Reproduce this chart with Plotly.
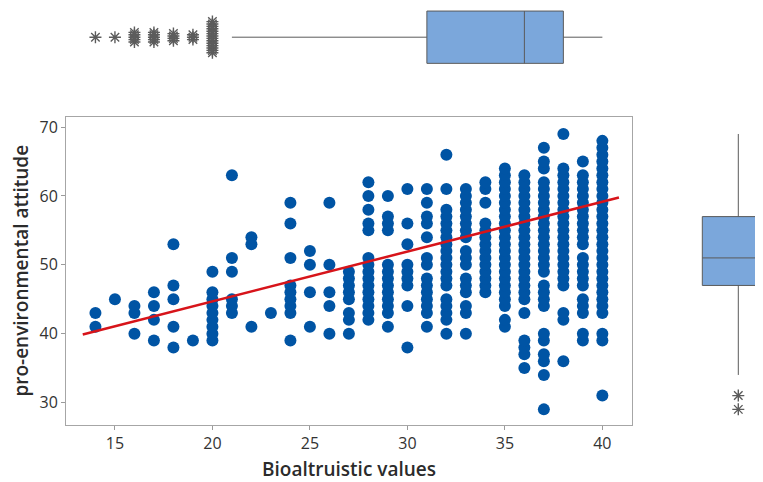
import plotly.graph_objects as go

# ---------------- data ----------------
bio_levels = [14, 15, 16, 17, 18, 19, 20, 21, 22, 23, 24, 25, 26, 27,
              28, 29, 30, 31, 32, 33, 34, 35, 36, 37, 38, 39, 40]

attitude_by_level = [
    [41, 43],
    [45],
    [40, 43, 44],
    [39, 42, 44, 46],
    [38, 41, 45, 47, 53],
    [39],
    [39, 40, 41, 42, 43, 44, 45, 46, 49],
    [43, 44, 45, 49, 51, 63],
    [41, 53, 54],
    [43],
    [39, 43, 44, 45, 46, 47, 51, 56, 59],
    [41, 46, 50, 52],
    [40, 44, 46, 50, 59],
    [40, 42, 43, 45, 46, 47, 48, 49],
    [42, 43, 44, 45, 46, 47, 48, 49, 50, 51, 55, 56, 58, 60, 62],
    [41, 43, 44, 45, 46, 47, 48, 49, 50, 55, 56, 57, 60],
    [38, 44, 47, 48, 49, 50, 53, 56, 61],
    [41, 43, 44, 45, 46, 47, 48, 50, 51, 54, 56, 57, 59, 61],
    [40, 42, 43, 44, 45, 47, 48, 49, 50, 51, 52, 53, 54, 55, 56, 57, 58, 61, 66],
    [40, 43, 44, 46, 47, 48, 50, 51, 52, 54, 55, 56, 57, 58, 59, 60, 61],
    [46, 47, 48, 49, 50, 51, 52, 53, 54, 55, 56, 59, 61, 62],
    [41, 42] + list(range(44, 65)),
    [35, 37, 38, 39, 43] + list(range(45, 64)),
    [29, 34, 36, 37, 39, 40, 44, 45, 46, 47] + list(range(49, 63)) + [64, 65, 67],
    [36, 42, 43] + list(range(47, 65)) + [69],
    [39, 40, 43, 44, 45, 47, 48, 49, 50, 51] + list(range(53, 64)) + [65],
    [31, 39, 40] + list(range(43, 69)),
]

# fitted regression line
fit_intercept = 30.2
fit_slope = 0.724
fit_x_span = [13.35, 40.85]

# marginal box statistics
bio_box = dict(q1=31, median=36, q3=38, lowerfence=21, upperfence=40)
bio_outlier_values = [14, 15, 16, 17, 18, 19, 20]
bio_outlier_counts = [1, 1, 5, 5, 4, 3, 14]

att_box = dict(q1=47, median=51, q3=57, lowerfence=34, upperfence=69)
att_outlier_values = [29, 31]

x_ticks = [15, 20, 25, 30, 35, 40]
y_ticks = [30, 40, 50, 60, 70]
x_title = "Bioaltruistic values"
y_title = "pro-environmental attitude"

# ---------------- layout geometry ----------------
# the page body has an 8px margin, so the figure starts at (8, 8)
OFF = 8
W, H = 763 - OFF, 482 - OFF


def px_x(a, b):
    return [(a - OFF) / W, (b - OFF) / W]


def px_y(top, bottom):
    return [(H - (bottom - OFF)) / H, (H - (top - OFF)) / H]


xrange_main = [12.49, 41.52]
yrange_main = [26.73, 71.54]

BLUE = "#0054A4"
BOXFILL = "#7BA7DB"
GREY = "#5a5a5a"
STAR = "#5c5c5c"
FONT = "Open Sans"

# ---------------- traces ----------------
xs, ys = [], []
for lvl, vals in zip(bio_levels, attitude_by_level):
    for v in vals:
        xs.append(lvl)
        ys.append(v)

fig = go.Figure()
fig.add_trace(go.Scatter(
    x=xs, y=ys, mode="markers",
    marker=dict(size=12, color=BLUE, line=dict(width=0)),
    xaxis="x", yaxis="y", showlegend=False, hoverinfo="x+y"))

fig.add_trace(go.Scatter(
    x=fit_x_span,
    y=[fit_intercept + fit_slope * v for v in fit_x_span],
    mode="lines", line=dict(color="#D7141A", width=2.5),
    xaxis="x", yaxis="y", showlegend=False))

# top box (horizontal)
top_box_px = (8, 66.4)
fig.add_trace(go.Box(
    orientation="h", y=[0],
    q1=[bio_box["q1"]], median=[bio_box["median"]], q3=[bio_box["q3"]],
    lowerfence=[bio_box["lowerfence"]], upperfence=[bio_box["upperfence"]],
    boxpoints=False, width=52.3 / (top_box_px[1] - top_box_px[0]), whiskerwidth=0,
    fillcolor=BOXFILL, line=dict(color=GREY, width=1),
    xaxis="x2", yaxis="y2", showlegend=False))

ox, oy = [], []
step = 2.4 / (top_box_px[1] - top_box_px[0])
for v, n in zip(bio_outlier_values, bio_outlier_counts):
    for i in range(n):
        ox.append(v)
        oy.append((i - (n - 1) / 2) * step)
fig.add_trace(go.Scatter(
    x=ox, y=oy, mode="markers",
    marker=dict(symbol="asterisk-open", size=10, color=STAR,
                line=dict(color=STAR, width=1.4)),
    xaxis="x2", yaxis="y2", showlegend=False))

# right box (vertical)
fig.add_trace(go.Box(
    x=[0],
    q1=[att_box["q1"]], median=[att_box["median"]], q3=[att_box["q3"]],
    lowerfence=[att_box["lowerfence"]], upperfence=[att_box["upperfence"]],
    boxpoints=False, width=1.0, whiskerwidth=0,
    fillcolor=BOXFILL, line=dict(color=GREY, width=1),
    xaxis="x3", yaxis="y3", showlegend=False))

fig.add_trace(go.Scatter(
    x=[0] * len(att_outlier_values), y=att_outlier_values, mode="markers",
    marker=dict(symbol="asterisk-open", size=10, color=STAR,
                line=dict(color=STAR, width=1.4)),
    xaxis="x3", yaxis="y3", showlegend=False))

axis_common = dict(showgrid=False, zeroline=False)
hidden = dict(visible=False, showgrid=False, zeroline=False, fixedrange=True)
title_font = dict(size=19, color="#2b2b2b", family=FONT, weight=600)
tick_font = dict(size=16, color="#333333", family=FONT)

fig.update_layout(
    width=W, height=H,
    margin=dict(l=0, r=0, t=0, b=0),
    paper_bgcolor="white", plot_bgcolor="white",
    font=dict(family=FONT, color="#333333", size=16),
    xaxis=dict(
        domain=px_x(66, 632), range=xrange_main, tickvals=x_ticks,
        ticks="outside", ticklen=4, tickcolor="#9a9a9a",
        showline=True, linecolor="#a6a6a6", linewidth=1, mirror=True,
        tickfont=tick_font,
        title=dict(text=x_title, standoff=10, font=title_font),
        automargin=False, anchor="y", **axis_common),
    yaxis=dict(
        domain=px_y(116.5, 425), range=yrange_main, tickvals=y_ticks,
        ticks="outside", ticklen=4, tickcolor="#9a9a9a",
        showline=True, linecolor="#a6a6a6", linewidth=1, mirror=True,
        tickfont=tick_font,
        title=dict(text=y_title, standoff=9, font=title_font),
        automargin=False, anchor="x", **axis_common),
    xaxis2=dict(domain=px_x(66, 632), range=xrange_main, anchor="y2", **hidden),
    yaxis2=dict(domain=px_y(*top_box_px), range=[-0.5, 0.5], anchor="x2", **hidden),
    xaxis3=dict(domain=px_x(680, 763), range=[-58.3 / 72, 24.7 / 72], anchor="y3", **hidden),
    yaxis3=dict(domain=px_y(116.5, 425), range=yrange_main, anchor="x3", **hidden),
)

fig.write_html("out.html")
